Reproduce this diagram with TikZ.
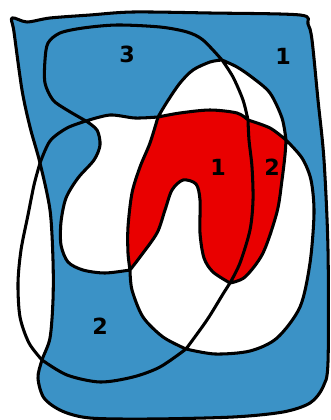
\documentclass[tikz,border=0pt]{standalone}
\usepackage{fontspec}
\setsansfont{DejaVu Sans}
\usepackage{tikz}
\definecolor{AreaBlue}{RGB}{59,146,198}
\definecolor{AreaRed} {RGB}{233,0,0}
\tikzset{
  ln_curve/.style={
    draw=black, line width=2.6pt, line join=round},
  rg_blue/.style={fill=AreaBlue},
  rg_white/.style={fill=white},
  rg_red/.style={fill=AreaRed},
  lbl_num/.style={
    font=\sffamily\bfseries\fontsize{19}{19}\selectfont, inner sep=0pt},
}

\begin{document}
\begin{tikzpicture}[x=0.03cm,y=-0.03cm]
\useasboundingbox (0,0) rectangle (330,420);

%% crossing points
\coordinate (O1) at (40,163);
\coordinate (O2) at (42,360);
\coordinate (X1) at (86,121);
\coordinate (X2) at (222,60);
\coordinate (X3) at (158,117);
\coordinate (X4) at (248,120);
\coordinate (X5) at (286,140);
\coordinate (X6) at (130,270);
\coordinate (X7) at (186,349);
\coordinate (X8) at (230,283);

%% pieces of the inner curve, crossing to crossing
\def\cvA{-- plot[smooth] coordinates {(O1) (34,185) (28,215) (21,250) (18,283) (20,317) (29,343) (O2)}}
\def\cvB{-- plot[smooth] coordinates {(O2) (67,375) (100,382) (133,377) (160,367) (X7)}}
\def\cvC{-- plot[smooth] coordinates {(X7) (207,320) (223,294) (X8)}}
\def\cvD{-- plot[smooth] coordinates {(X8) (240,263) (250,230) (253,200) (252,167) (249,140) (X4)}}
\def\cvE{-- plot[smooth] coordinates {(X4) (243,100) (233,77) (X2)}}
\def\cvF{-- plot[smooth] coordinates {(X2) (203,40) (187,32) (160,27) (117,25) (83,28) (60,33) (48,43) (45,60) (45,83) (53,100) (67,110) (X1)}}
\def\cvG{-- plot[smooth] coordinates {(X1) (97,130) (100,145) (94,160) (78,178) (66,198) (61,222) (61,245) (68,262) (83,270) (105,273) (X6)}}
\def\cvH{-- plot[smooth] coordinates {(X6) (140,257) (157,233) (165,210) (172,190) (183,180) (196,184) (200,200) (200,233) (204,258) (213,272) (X8)}}
\def\cvI{-- plot[smooth] coordinates {(X8) (245,277) (263,253) (277,212) (282,180) (285,155) (X5)}}
\def\cvJ{-- plot[smooth] coordinates {(X5) (282,118) (270,93) (253,78) (237,67) (X2)}}
\def\cvK{-- plot[smooth] coordinates {(X2) (210,62) (193,70) (180,83) (167,102) (X3)}}
\def\cvL{-- plot[smooth] coordinates {(X3) (150,143) (140,167) (132,193) (128,227) (128,253) (X6)}}
\def\cvM{-- plot[smooth] coordinates {(X6) (132,290) (143,317) (163,337) (X7)}}
\def\cvN{-- plot[smooth] coordinates {(X7) (215,354) (250,351) (277,338) (300,307) (310,263) (314,213) (311,180) (302,158) (X5)}}
\def\cvO{-- plot[smooth] coordinates {(X5) (270,128) (X4)}}
\def\cvP{-- plot[smooth] coordinates {(X4) (237,113) (210,110) (180,113) (X3)}}
\def\cvQ{-- plot[smooth] coordinates {(X3) (135,118) (110,115) (X1)}}
\def\cvR{-- plot[smooth] coordinates {(X1) (67,128) (50,141) (O1)}}

%% outer boundary
\filldraw[rg_blue,ln_curve] plot[smooth cycle] coordinates {
  (12,18) (27,22) (50,18) (90,15) (133,12) (210,13) (300,15) (308,24)
  (312,40) (318,100) (324,160) (328,250) (328,362) (323,387) (310,403)
  (283,412) (233,417) (150,419) (90,418) (62,411) (44,398) (38,378)
  (O2) (50,338) (53,300) (53,260) (50,210) (O1) (30,127) (22,90) (14,32)};

%% regions
\fill[rg_white] (X2) \cvK \cvL \cvM \cvN \cvJ -- cycle;
\fill[rg_white] (X3) \cvQ \cvG -- cycle;
\fill[rg_red]   (X3) \cvL \cvH \cvI \cvO \cvP -- cycle;

%% inner curve
\draw[ln_curve] (O1) \cvA \cvB \cvC \cvD \cvE \cvF \cvG \cvH \cvI
  \cvJ \cvK \cvL \cvM \cvN \cvO \cvP \cvQ \cvR -- cycle;

%% numbers
\node[lbl_num] (nThree)  at (127,54)  {3};
\node[lbl_num] (nOneTop) at (283,56)  {1};
\node[lbl_num] (nOneRed) at (218,167) {1};
\node[lbl_num] (nTwoRed) at (272,167) {2};
\node[lbl_num] (nTwoLow) at (100,326) {2};

\end{tikzpicture}
\end{document}
